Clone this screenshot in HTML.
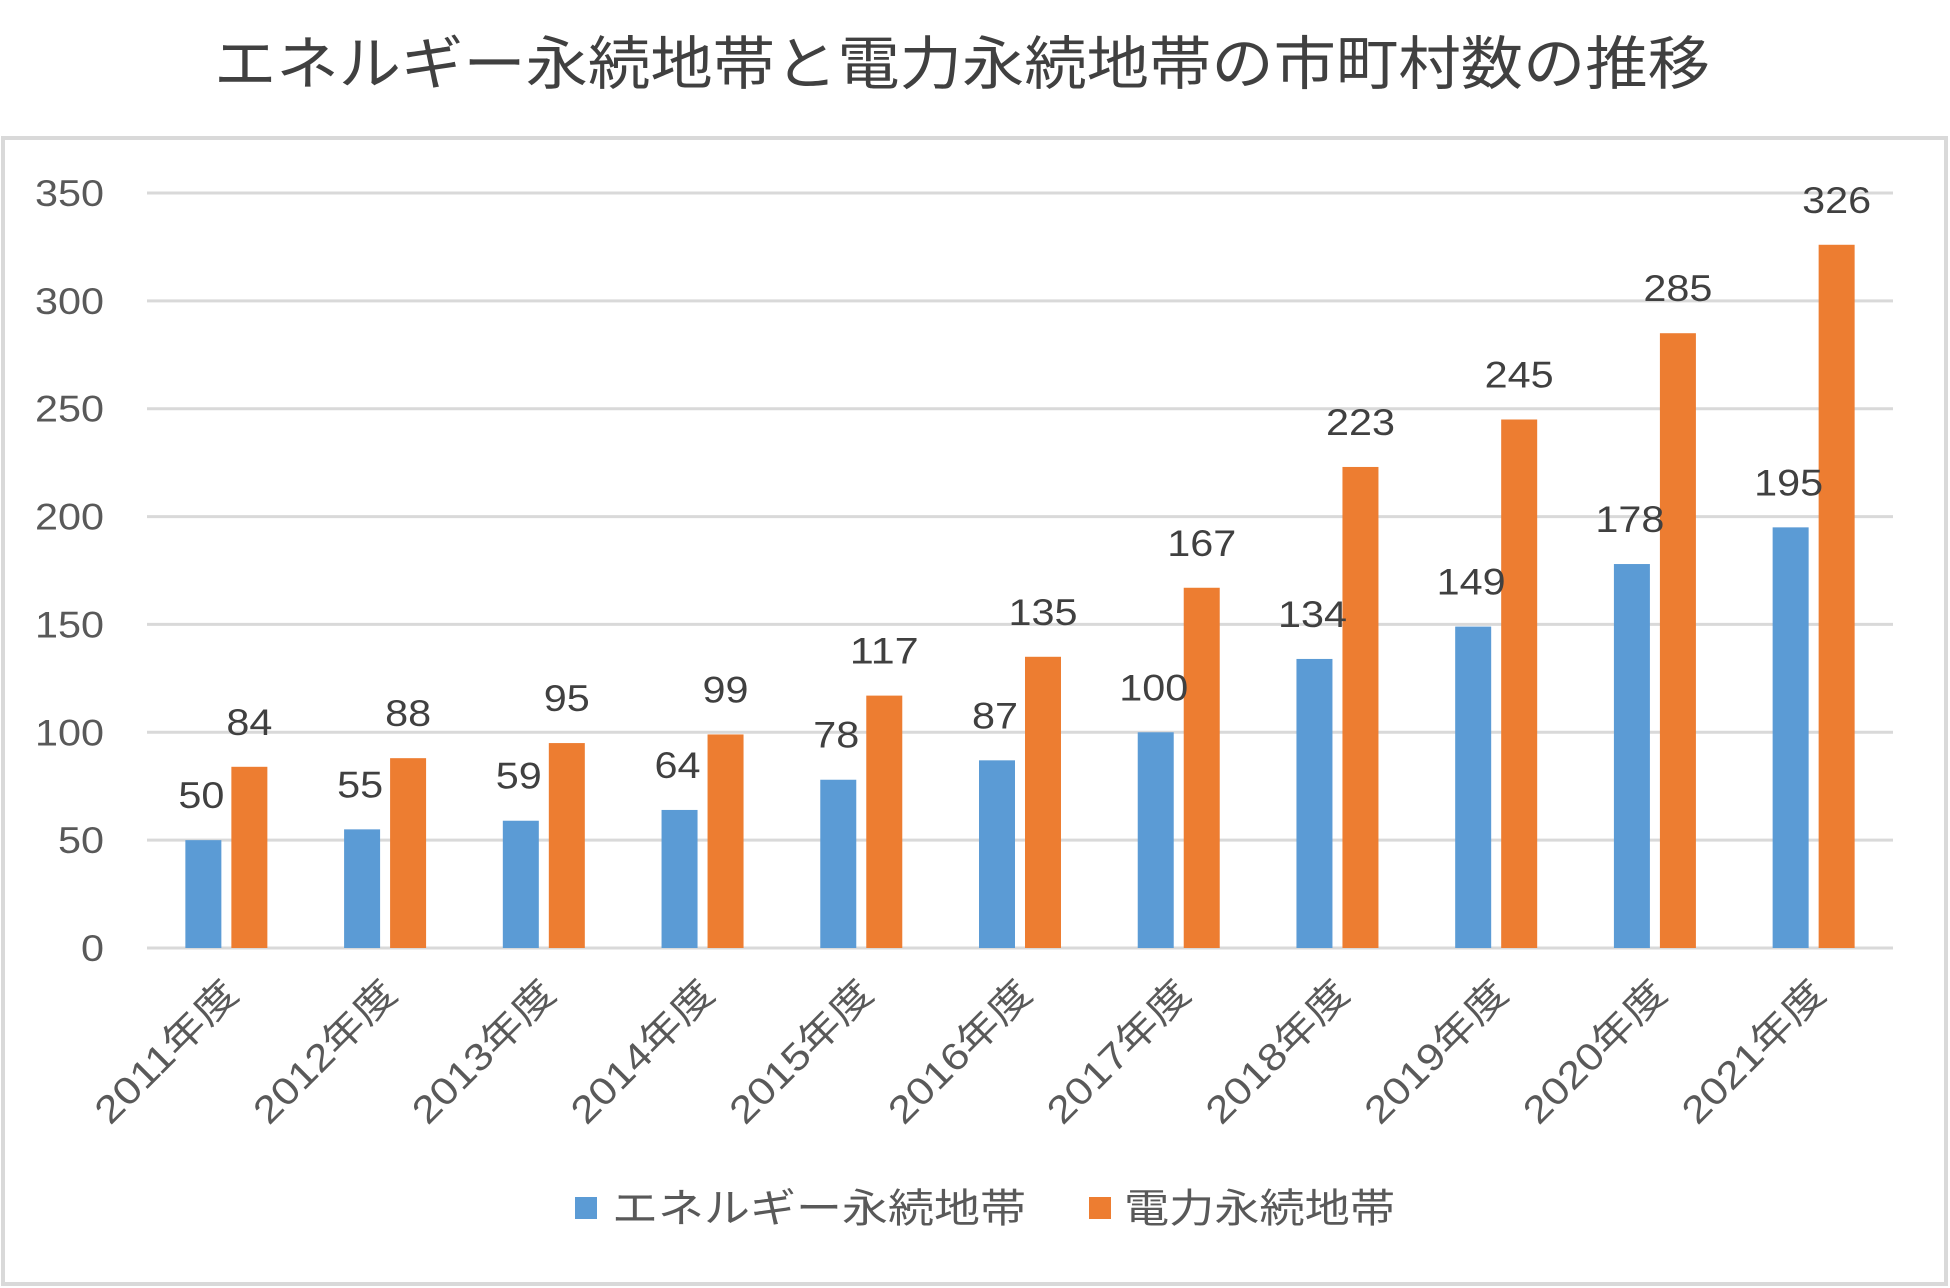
<!DOCTYPE html>
<html><head><meta charset="utf-8"><style>
html,body{margin:0;padding:0;background:#fff}
svg{display:block;font-family:"Liberation Sans","Noto Sans CJK JP",sans-serif}
</style></head><body>
<svg id="chart" width="1950" height="1288" viewBox="0 0 1950 1288">
<text x="962" y="84" text-anchor="middle" font-size="58" fill="#404040" textLength="1496" lengthAdjust="spacingAndGlyphs" font-family="Noto Sans CJK JP, sans-serif">エネルギー永続地帯と電力永続地帯の市町村数の推移</text>
<rect x="3" y="138" width="1943" height="1146" fill="#fff" stroke="#d9d9d9" stroke-width="4"/>
<g id="grid"></g>
<g id="bars"></g>
<g id="xlabels"></g>
<g>
<g><rect x="575" y="1197" width="22" height="22" fill="#5b9bd5"/><text x="612" y="1222" font-size="40" fill="#595959" textLength="414" lengthAdjust="spacingAndGlyphs" font-family="Noto Sans CJK JP, sans-serif">エネルギー永続地帯</text></g>
<g><rect x="1089" y="1197" width="22" height="22" fill="#ed7d31"/><text x="1124" y="1222" font-size="40" fill="#595959" textLength="271" lengthAdjust="spacingAndGlyphs" font-family="Noto Sans CJK JP, sans-serif">電力永続地帯</text></g>
</g>
</svg>
<script>
const categories = ["2011年度","2012年度","2013年度","2014年度","2015年度","2016年度","2017年度","2018年度","2019年度","2020年度","2021年度"];
const energyValues = [50,55,59,64,78,87,100,134,149,178,195];
const powerValues = [84,88,95,99,117,135,167,223,245,285,326];
const yTicks = [0,50,100,150,200,250,300,350];

const NS="http://www.w3.org/2000/svg";
const plotL=147, plotR=1893, plotT=193, plotB=948, yMax=350;
const y = v => plotB - (v/yMax)*(plotB-plotT);
const bandW=(plotR-plotL)/categories.length;
const xc = i => plotL + bandW*(i+0.5);
const barW=36, gap=10, charW=23;
function mk(tag, attrs, parent){const e=document.createElementNS(NS,tag);for(const k in attrs)e.setAttribute(k,attrs[k]);parent.appendChild(e);return e;}
const grid=document.getElementById('grid'), bars=document.getElementById('bars'), xl=document.getElementById('xlabels');
yTicks.forEach(t=>{
  const l=mk('line',{x1:plotL,x2:plotR,y1:y(t),y2:y(t),stroke:'#d9d9d9','stroke-width':3},grid);
  
  
  const s=String(t);
  const tx=mk('text',{x:104,y:y(t)+13,'text-anchor':'end','font-size':37,fill:'#595959',textLength:s.length*charW,lengthAdjust:'spacingAndGlyphs'},grid);
  tx.textContent=s;
  
  
});
categories.forEach((c,i)=>{
  const cx=xc(i);
  const bx=cx-gap/2-barW, ox=cx+gap/2;
  const b=mk('rect',{x:bx,y:y(energyValues[i]),width:barW,height:plotB-y(energyValues[i]),fill:'#5b9bd5'},bars);
  
  
  const o=mk('rect',{x:ox,y:y(powerValues[i]),width:barW,height:plotB-y(powerValues[i]),fill:'#ed7d31'},bars);
  
  
  const es=String(energyValues[i]), ps=String(powerValues[i]);
  const bl=mk('text',{x:bx+barW/2-2,y:y(energyValues[i])-32,'text-anchor':'middle','font-size':37,fill:'#404040',textLength:es.length*charW,lengthAdjust:'spacingAndGlyphs'},bars);
  bl.textContent=es;
  
  
  const ol=mk('text',{x:ox+barW/2,y:y(powerValues[i])-32,'text-anchor':'middle','font-size':37,fill:'#404040',textLength:ps.length*charW,lengthAdjust:'spacingAndGlyphs'},bars);
  ol.textContent=ps;
  
  
  const xt=mk('text',{x:0,y:0,'text-anchor':'end','font-size':38,fill:'#595959',textLength:184,lengthAdjust:'spacingAndGlyphs','font-family':'Liberation Sans, Noto Sans CJK JP, sans-serif',transform:`translate(${cx+14},${plotB+48}) rotate(-45)`},xl);
  xt.textContent=c;
  
  
});
</script>
</body></html>
